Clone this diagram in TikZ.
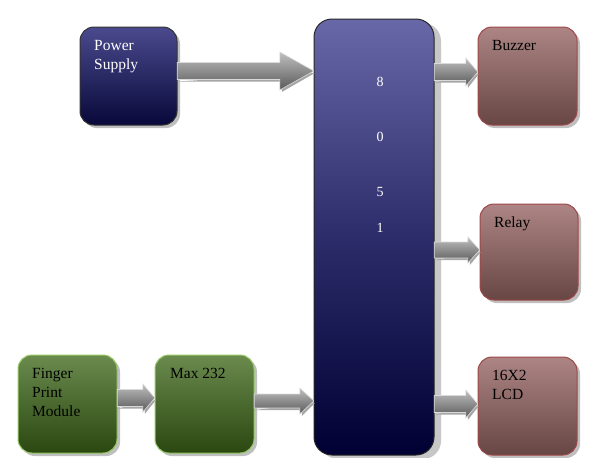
\documentclass[tikz,border=0pt]{standalone}
\usepackage{fontspec}
\setmainfont{Liberation Serif}
\usetikzlibrary{calc}
\definecolor{bluetop}{HTML}{4A4A8E}
\definecolor{bluebot}{HTML}{08083A}
\definecolor{maintop}{HTML}{6868A8}
\definecolor{mainmid}{HTML}{2C2C6A}
\definecolor{mainbot}{HTML}{000033}
\definecolor{redtop}{HTML}{AC8584}
\definecolor{redbot}{HTML}{674644}
\definecolor{redline}{HTML}{A04848}
\definecolor{greentop}{HTML}{6A8A4E}
\definecolor{greenbot}{HTML}{2A4810}
\definecolor{greenline}{HTML}{96C864}
\tikzset{
  box/.style={rounded corners=14pt, line width=1pt},
  bluebox/.style={box, draw=black!80, top color=bluetop, bottom color=bluebot},
  redbox/.style={box, draw=redline, top color=redtop, bottom color=redbot},
  greenbox/.style={box, draw=greenline, top color=greentop, bottom color=greenbot},
  mainbox/.style={box, rounded corners=18pt, draw=black!85, top color=maintop, bottom color=mainbot, middle color=mainmid},
  shadowbox/.style={rounded corners=14pt, fill=black!25},
  lbl/.style={anchor=north west, align=left, inner sep=0pt, font=\fontsize{15.5}{19}\selectfont},
  digit/.style={text=white, inner sep=0pt, font=\fontsize{14}{16}\selectfont},
  arrowshade/.style={top color=black!25, bottom color=black!65, draw=white!85!black, line width=0.6pt}
}
% #1 start x, #2 end x, #3 y centre, #4 body half, #5 head half, #6 head length
\newcommand\blockarrow[6]{%
  \path let \p1=(#1), \p2=(#2), \p3=(#3) in
    [fill=black!35] (\x1,{\y3-#4pt-2pt}) -- ({\x2-#6pt+2pt},{\y3-#4pt-2pt}) -- ({\x2-#6pt+2pt},{\y3-#5pt-2pt}) -- ({\x2+1pt},{\y3-2pt}) -- cycle;
  \path let \p1=(#1), \p2=(#2), \p3=(#3) in
    [arrowshade] (\x1,{\y3+#4pt}) -- ({\x2-#6pt},{\y3+#4pt}) -- ({\x2-#6pt},{\y3+#5pt}) -- (\x2,\y3)
    -- ({\x2-#6pt},{\y3-#5pt}) -- ({\x2-#6pt},{\y3-#4pt}) -- (\x1,{\y3-#4pt}) -- cycle;
}
\begin{document}
\begin{tikzpicture}[x=1pt,y=-1pt]
\useasboundingbox (0,0) rectangle (603,458);
% shadows
\fill[shadowbox] (83,30) rectangle (180,128);
\fill[shadowbox, rounded corners=18pt, fill=black!22] (320,23) rectangle (441,459);
\fill[shadowbox] (481,30) rectangle (580,128);
\fill[shadowbox] (483,207) rectangle (581,303);
\fill[shadowbox] (481,360) rectangle (580,458);
\fill[shadowbox] (21,358) rectangle (120,456);
\fill[shadowbox] (158,358) rectangle (257,456);
% boxes
\path[bluebox] (80,27) rectangle (177,125);
\node (ps) [inner sep=0pt, minimum width=97pt, minimum height=98pt] at (128.5,76) {};
\path[mainbox] (314,19) rectangle (434,455);
\node (mcu) [inner sep=0pt, minimum width=120pt, minimum height=436pt] at (374,237) {};
\path[redbox] (478,27) rectangle (577,125);
\node (bz) [inner sep=0pt, minimum width=99pt, minimum height=98pt] at (527.5,76) {};
\path[redbox] (480,204) rectangle (578,300);
\node (rl) [inner sep=0pt, minimum width=98pt, minimum height=96pt] at (529,252) {};
\path[redbox] (478,357) rectangle (577,455);
\node (lcd) [inner sep=0pt, minimum width=99pt, minimum height=98pt] at (527.5,406) {};
\path[greenbox] (18,355) rectangle (117,453);
\node (fp) [inner sep=0pt, minimum width=99pt, minimum height=98pt] at (67.5,404) {};
\path[greenbox] (155,355) rectangle (254,453);
\node (mx) [inner sep=0pt, minimum width=99pt, minimum height=98pt] at (204.5,404) {};
% labels
\node (pst) [lbl, text=white] at (94,40) {Power\\Supply};
\node (bzt) [lbl] at (492,40) {Buzzer};
\node (rlt) [lbl] at (494,217) {Relay};
\node (lcdt) [lbl] at (492,370) {16X2\\LCD};
\node (fpt) [lbl] at (32,368) {Finger\\Print\\Module};
\node (mxt) [lbl] at (170,368) {Max 232};
\node (d8) [digit] at (380,82) {8};
\node (d0) [digit] at (380,137) {0};
\node (d5) [digit] at (380,192) {5};
\node (d1) [digit] at (380,228) {1};
% arrows
\coordinate (y1) at (0,71);
\coordinate (y2) at (0,72);
\coordinate (y3) at (0,250);
\coordinate (y4) at (0,404);
\coordinate (y5) at (0,398);
\coordinate (y6) at (0,401);
\blockarrow{ps.east}{mcu.west}{y1}{8.5}{19}{34}
\blockarrow{mcu.east}{bz.west}{y2}{8.5}{14}{12}
\blockarrow{mcu.east}{rl.west}{y3}{8}{13}{12}
\blockarrow{mcu.east}{lcd.west}{y4}{8.5}{14}{12}
\blockarrow{fp.east}{mx.west}{y5}{8.5}{14}{12}
\blockarrow{mx.east}{mcu.west}{y6}{7}{13}{14}
\end{tikzpicture}
\end{document}
